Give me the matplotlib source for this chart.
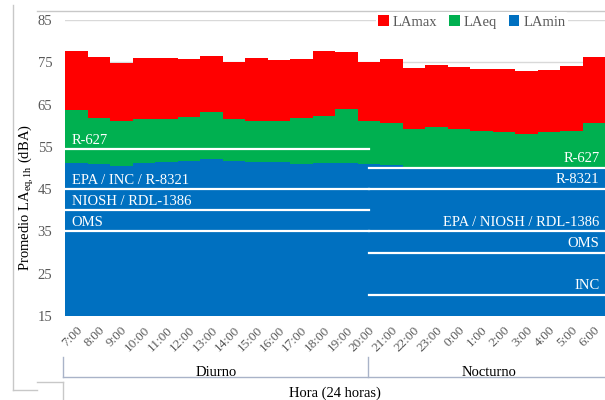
import matplotlib
matplotlib.use("Agg")
import matplotlib.pyplot as plt
from matplotlib.lines import Line2D
import numpy as np

# valores
horas = ['7:00', '8:00', '9:00', '10:00', '11:00', '12:00', '13:00', '14:00',
         '15:00', '16:00', '17:00', '18:00', '19:00', '20:00', '21:00', '22:00',
         '23:00', '0:00', '1:00', '2:00', '3:00', '4:00', '5:00', '6:00']
lamax = [77.7, 76.2, 74.9, 76.0, 76.0, 75.8, 76.4, 75.1, 75.9, 75.5, 75.8, 77.7,
         77.4, 75.1, 75.8, 73.6, 74.4, 73.9, 73.3, 73.3, 72.9, 73.1, 74.1, 76.2]
laeq = [63.6, 61.9, 61.1, 61.6, 61.6, 62.1, 63.3, 61.6, 61.2, 61.2, 61.9, 62.4,
        64.0, 61.1, 60.6, 59.2, 59.6, 59.2, 58.7, 58.4, 58.0, 58.5, 58.7, 60.6]
lamin = [51.1, 50.9, 50.5, 51.3, 51.5, 51.7, 52.1, 51.7, 51.5, 51.5, 50.9, 51.1,
         51.3, 50.9, 50.7, 49.8, 49.9, 49.8, 49.8, 49.7, 49.7, 49.8, 49.8, 49.9]

# limites normativos (diurno / nocturno)
lim_dia = [54.5, 45, 40, 35]
lab_dia = ['R-627', 'EPA / INC / R-8321', 'NIOSH / RDL-1386', 'OMS']
lim_noche = [50, 45, 35, 30, 20]
lab_noche = ['R-627', 'R-8321', 'EPA / NIOSH / RDL-1386', 'OMS', 'INC']

plt.rcParams['font.family'] = ['Liberation Serif', 'DejaVu Serif']
plt.rcParams['mathtext.fontset'] = 'custom'
plt.rcParams['mathtext.rm'] = 'Liberation Serif'
plt.rcParams['mathtext.it'] = 'Liberation Serif:italic'

W, H = 605, 400
fig = plt.figure(figsize=(W / 100, H / 100), dpi=100)
ax = fig.add_axes([65 / W, 1 - 316 / H, 540 / W, 296 / H])

x = np.arange(len(horas))
ax.bar(x, lamax, width=1.0, color='#FF0000', lw=0, label='LAmax', zorder=2)
ax.bar(x, laeq, width=1.0, color='#00B050', lw=0, label='LAeq', zorder=3)
ax.bar(x, lamin, width=1.0, color='#0070C0', lw=0, label='LAmin', zorder=4)

n_dia = horas.index('20:00')
for v, t in zip(lim_dia, lab_dia):
    ax.plot([-0.5, n_dia], [v, v], color='white', lw=1.6, zorder=5)
    ax.text(-0.2, v + 2.0, t, color='white', fontsize=10.5, ha='left', va='center', zorder=6)
for v, t in zip(lim_noche, lab_noche):
    ax.plot([n_dia, len(horas) - 0.5], [v, v], color='white', lw=1.6, zorder=5)
    ax.text(len(horas) - 0.75, v + 2.2, t, color='white', fontsize=10.5, ha='right', va='center', zorder=6)

ax.set_xlim(-0.5, len(horas) - 0.5)
ax.set_ylim(15, 85)
ax.set_yticks(np.arange(15, 86, 10))
ax.set_xticks(x)
ax.set_xticklabels(horas, rotation=45, ha='right', rotation_mode='anchor')
ax.tick_params(axis='both', length=0, colors='#595959', labelsize=10.5)
ax.tick_params(axis='y', pad=9)
ax.tick_params(axis='x', labelsize=9.5, pad=6)
ax.grid(axis='y', color='#D9D9D9', lw=1, zorder=0)
for s in ax.spines.values():
    s.set_visible(False)

leg = fig.legend(loc='center', bbox_to_anchor=(472 / W, 1 - 22 / H), ncol=3,
                 fontsize=10.5, frameon=True, facecolor='white', edgecolor='none',
                 framealpha=1, handlelength=0.7, handleheight=0.7,
                 handletextpad=0.3, columnspacing=0.8, borderpad=0.2)
for t in leg.get_texts():
    t.set_color('#595959')

fig.text(26 / W, 1 - 198 / H, r'Promedio LA$_{\mathrm{eq,1h}}$ (dBA)', rotation=90,
         ha='center', va='center', fontsize=10.5)


def linea(xs, ys, color):
    fig.add_artist(Line2D([v / W for v in xs], [1 - v / H for v in ys],
                          transform=fig.transFigure, color=color, lw=1))


# agrupacion de categorias
c = '#A9B3C8'
linea([63, 63], [357, 377], c)
linea([368, 368], [357, 377], c)
linea([63, 605], [377, 377], c)
fig.text(216 / W, 1 - 372 / H, 'Diurno', ha='center', va='center', fontsize=10.5)
fig.text(489 / W, 1 - 372 / H, 'Nocturno', ha='center', va='center', fontsize=10.5)
fig.text(335 / W, 1 - 393 / H, 'Hora (24 horas)', ha='center', va='center', fontsize=10.5)

# bordes del recuadro
g = '#C8C8C8'
linea([13, 13], [5, 390], g)
linea([13, 37], [390, 390], g)
linea([37, 605], [11, 11], g)
linea([37, 63], [382, 382], g)
linea([63, 63], [382, 400], g)

fig.savefig('out.png', dpi=100)
